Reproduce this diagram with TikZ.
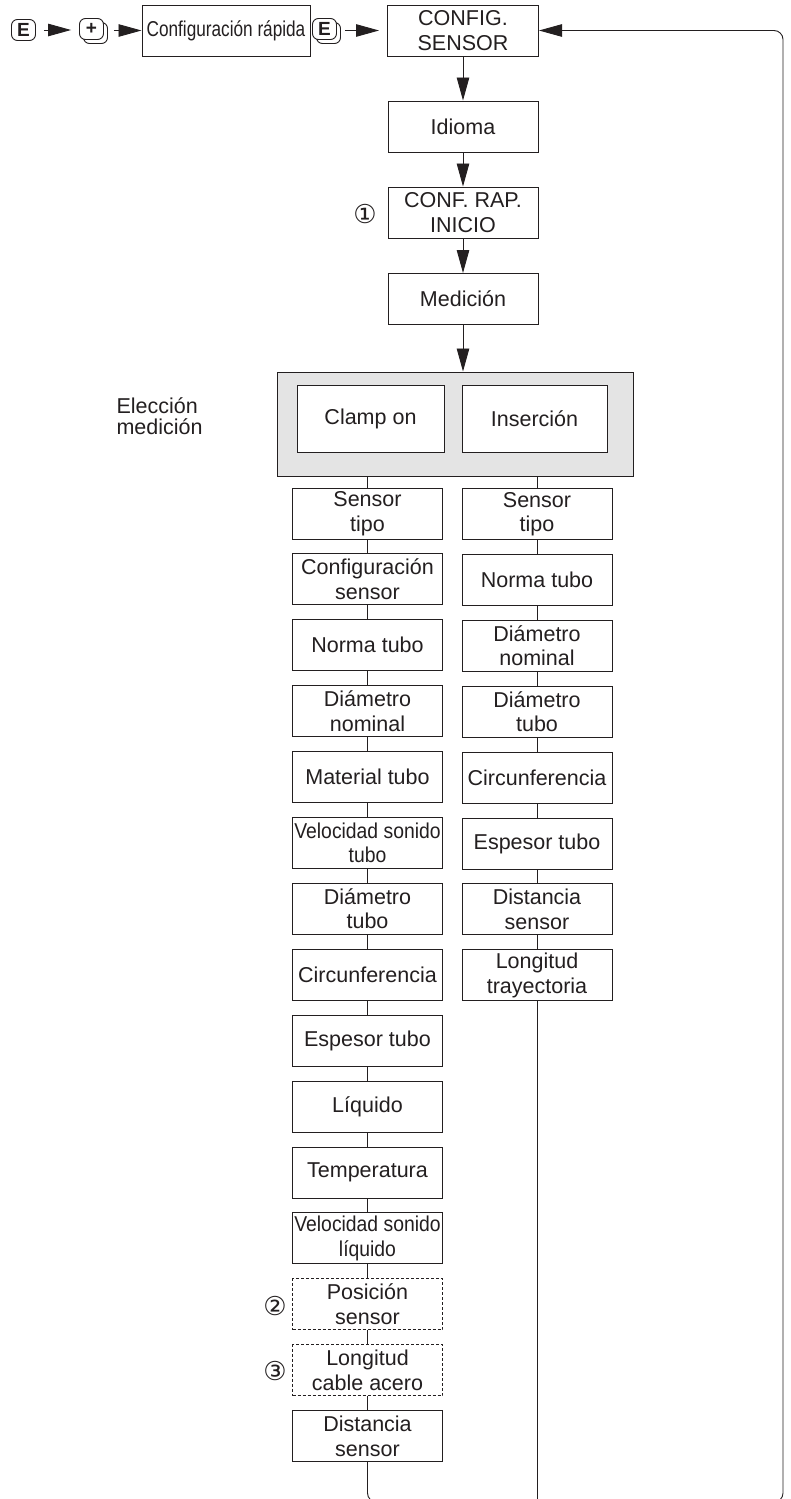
\documentclass[tikz,border=0pt]{standalone}
\usepackage{fontspec}
\setmainfont{Liberation Sans}
\newfontfamily\narrowfont{Liberation Sans}[FakeStretch=0.8]
\newfontfamily\tightfont{Liberation Sans}[FakeStretch=0.9]
\newfontfamily\circfont{DejaVu Sans}
\usepackage{tikz}
\usetikzlibrary{arrows.meta, positioning, shadows}
\definecolor{ink}{RGB}{35,31,32}
\definecolor{panel}{RGB}{228,228,228}

\tikzset{
  menubox/.style={draw=ink, line width=1pt, fill=white, minimum width=150pt, minimum height=51pt,
    inner sep=1pt, align=center, text=ink, font=\fontsize{21.5}{24.5}\selectfont},
  tightbox/.style={menubox, font=\tightfont\fontsize{21.5}{24.5}\selectfont},
  optbox/.style={menubox, dash pattern=on 3pt off 2pt},
  keycap/.style={draw=ink, line width=0.9pt, fill=white, rounded corners=6pt, minimum width=24pt,
    minimum height=21pt, inner sep=0pt, text=ink, font=\bfseries\fontsize{19}{19}\selectfont},
  keyshadow/.style={copy shadow={shadow xshift=4pt, shadow yshift=-4pt, draw=ink, fill=white, line width=0.9pt}},
  flowarrow/.style={draw=ink, line width=0.9pt, -{Triangle[length=23pt, width=12.5pt]}},
  linkline/.style={draw=ink, line width=0.9pt},
  notemark/.style={text=ink, font=\circfont\fontsize{26}{26}\selectfont}
}

\begin{document}
\begin{tikzpicture}[x=1pt, y=-1pt]
  \useasboundingbox (0,0) rectangle (791,1499);
  \clip (0,0) rectangle (791,1499);

  % key sequence
  \node[keycap] (ekeyA) at (23.5,30) {E};
  \node[keycap, keyshadow] (pluskey) at (91.5,29) {+};
  \node[menubox, minimum width=168pt, font=\narrowfont\fontsize{21.5}{24.5}\selectfont] (quickcfg) at (226,30.5) {Configuración rápida};
  \node[keycap, keyshadow] (ekeyB) at (324.5,29) {E};
  \node[menubox, minimum width=151pt] (cfgsensor) at (463,30.5) {CONFIG.\\SENSOR};
  \draw[flowarrow, shorten <=8pt, shorten >=8pt] (ekeyA.east) -- (ekeyA.east -| pluskey.west);
  \draw[flowarrow, shorten <=10pt] (pluskey.east |- quickcfg) -- (quickcfg.west);
  \draw[flowarrow, shorten <=8pt, shorten >=8pt] (ekeyB.east |- cfgsensor) -- (cfgsensor.west);

  % main chain
  \node[menubox] (idioma) at (463,126.5) {Idioma};
  \node[menubox] (confrap) at (463,212.5) {CONF. RAP.\\INICIO};
  \node[menubox] (medicion) at (463,299) {Medición};
  \node[notemark] (note1) at (365,214) {①};
  \draw[flowarrow] (cfgsensor) -- (idioma);
  \draw[flowarrow] (idioma) -- (confrap);
  \draw[flowarrow] (confrap) -- (medicion);

  % choice of measurement
  \node[draw=ink, line width=1pt, fill=panel, minimum width=356pt, minimum height=104pt] (choice) at (455,424) {};
  \node[menubox, minimum width=147pt, minimum height=67pt] (clamp) at (370.5,418.5) {Clamp on};
  \node[menubox, minimum width=145pt, minimum height=67pt] (insert) at (534.5,418.5) {Inserción};
  \node[anchor=west, align=left, text=ink, font=\fontsize{21.5}{21}\selectfont] (choicelbl) at (113,416) {Elección\\medición};
  \draw[flowarrow] (medicion) -- (medicion.south |- choice.north);

  % clamp on branch
  \foreach \n/\t/\s in {
    1/{Sensor\\tipo}/menubox,
    2/{Configuración\\sensor}/menubox,
    3/{Norma tubo}/menubox,
    4/{Diámetro\\nominal}/menubox,
    5/{Material tubo}/menubox,
    6/{Velocidad sonido\\tubo}/tightbox,
    7/{Diámetro\\tubo}/menubox,
    8/{Circunferencia}/menubox,
    9/{Espesor tubo}/menubox,
    10/{Líquido}/menubox,
    11/{Temperatura}/menubox,
    12/{Velocidad sonido\\líquido}/tightbox,
    13/{Posición\\sensor}/optbox,
    14/{Longitud\\cable acero}/optbox,
    15/{Distancia\\sensor}/menubox} {
    \pgfmathsetmacro{\y}{513.5+(\n-1)*65.9}
    \node[\s] (clampitem\n) at (367.5,\y) {\t};
  }
  \foreach \n in {2,...,15} {
    \pgfmathtruncatemacro{\prev}{\n-1}
    \draw[linkline] (clampitem\prev) -- (clampitem\n);
  }
  \node[notemark] (note2) at (275,1306) {②};
  \node[notemark] (note3) at (275,1371) {③};

  % insertion branch
  \foreach \n/\t in {
    1/{Sensor\\tipo},
    2/{Norma tubo},
    3/{Diámetro\\nominal},
    4/{Diámetro\\tubo},
    5/{Circunferencia},
    6/{Espesor tubo},
    7/{Distancia\\sensor},
    8/{Longitud\\trayectoria}} {
    \pgfmathsetmacro{\y}{514+(\n-1)*65.9}
    \node[menubox] (insertitem\n) at (537,\y) {\t};
  }
  \foreach \n in {2,...,8} {
    \pgfmathtruncatemacro{\prev}{\n-1}
    \draw[linkline] (insertitem\prev) -- (insertitem\n);
  }
  \draw[linkline] (clampitem1.north) -- (clampitem1.north |- choice.south);
  \draw[linkline] (insertitem1.north) -- (insertitem1.north |- choice.south);

  % return path
  \coordinate (loopL) at (367.5,1502);
  \coordinate (loopR) at (783,1502);
  \coordinate (loopT) at (783,30.5);
  \draw[linkline] (insertitem8.south) -- (insertitem8.south |- loopL);
  \draw[flowarrow, rounded corners=9pt] (clampitem15.south) -- (loopL) -- (loopR) -- (loopT) -- (cfgsensor.east);
\end{tikzpicture}
\end{document}
